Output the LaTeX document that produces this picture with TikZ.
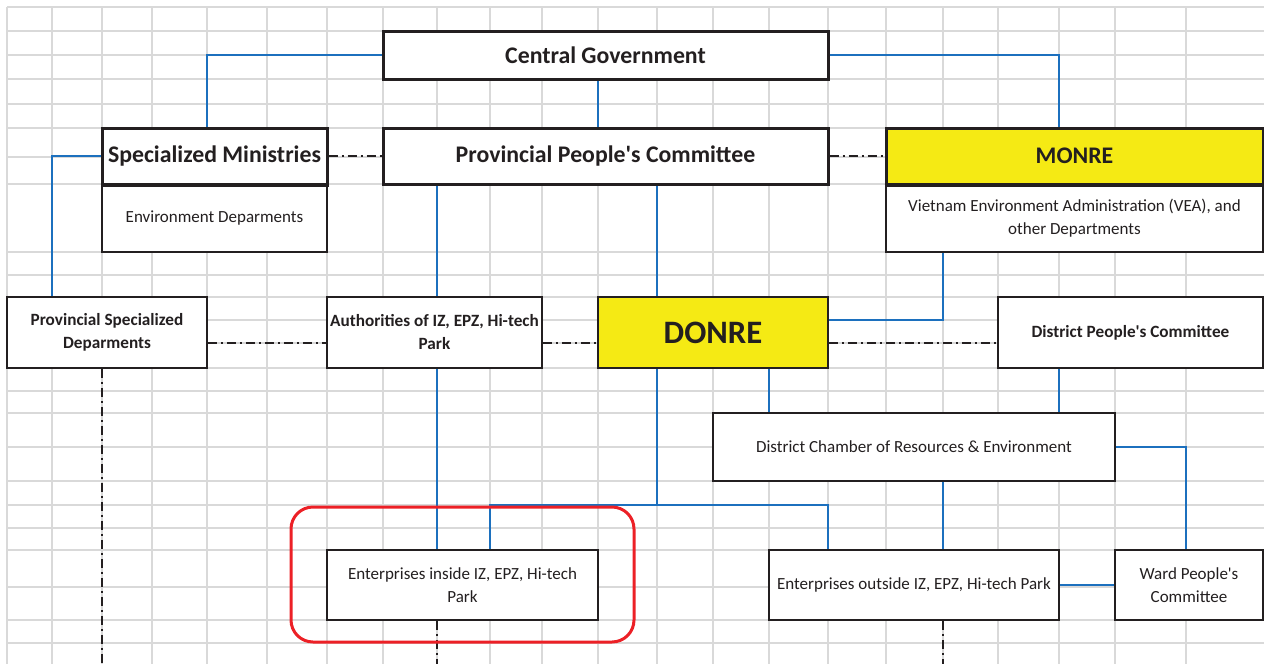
\documentclass[tikz,border=0pt]{standalone}
\usepackage{fontspec}
\setmainfont{Carlito}
\usepackage{xcolor}
\usepackage{tikz}
\usetikzlibrary{fit,calc}
\definecolor{gridgray}{RGB}{217,217,217}
\definecolor{linkblue}{RGB}{28,112,190}
\definecolor{deptyellow}{RGB}{245,234,20}
\definecolor{inkdark}{RGB}{35,31,32}
\definecolor{focusred}{RGB}{236,32,38}

\begin{document}
\begin{tikzpicture}[
  x=1pt, y=-1pt,
  gridline/.style={draw=gridgray, line width=1.6pt},
  headbox/.style={
    rectangle, draw=inkdark, fill=white, line width=3pt,
    align=center, inner sep=0pt, text=inkdark,
    font=\fontsize{23.8}{28}\selectfont\bfseries
  },
  subbox/.style={
    rectangle, draw=inkdark, fill=white, line width=1.8pt,
    align=center, inner sep=0pt, text=inkdark,
    font=\fontsize{17}{23}\selectfont
  },
  unitbox/.style={subbox, font=\fontsize{17.2}{23}\selectfont\bfseries},
  link/.style={draw=linkblue, line width=2.8pt},
  peer/.style={draw=inkdark, line width=1.6pt,
    dash pattern=on 9pt off 4pt on 2pt off 4pt},
  focus/.style={draw=focusred, line width=3pt, rounded corners=22pt,
    inner sep=0pt}
]

\useasboundingbox (0,0) rectangle (1264,664);

% spreadsheet grid
\foreach \gx in {7,52,102,152,207,267,327,383,437,490,542,598,657,713,769,828,886,943,998,1059,1115,1186}
  \draw[gridline] (\gx,7) -- (\gx,664);
\foreach \gy in {7,31,55,79,104,128,157,184,252,275,297,320,343,368,391,413,447,481,505,528,550,587,620,643}
  \draw[gridline] (7,\gy) -- (1264,\gy);

% top level
\node[headbox, minimum width=445pt, minimum height=48pt] (central) at (605.5,55) {Central Government};

\node[headbox, minimum width=225pt, minimum height=56pt] (specmin) at (214.5,156) {Specialized Ministries};
\node[subbox, minimum width=225pt, minimum height=68pt] (envdep) at (214.5,218) {Environment Deparments};
\node[headbox, minimum width=445pt, minimum height=56pt] (ppc) at (605.5,156) {Provincial People\textquotesingle s Committee};
\node[headbox, fill=deptyellow, minimum width=377pt, minimum height=56pt] (monre) at (1074.5,156) {MONRE};
\node[subbox, minimum width=377pt, minimum height=68pt] (vea) at (1074.5,218)
  {Vietnam Environment Administration (VEA), and\\other Departments};
\draw[draw=inkdark, line width=3pt] (specmin.south west) -- (specmin.south east);
\draw[draw=inkdark, line width=3pt] (monre.south west) -- (monre.south east);

% provincial level
\node[unitbox, minimum width=200pt, minimum height=71pt] (provspec) at (107,332.5) {Provincial Specialized\\Deparments};
\node[unitbox, minimum width=215pt, minimum height=71pt] (auth) at (434.5,332.5) {Authorities of IZ, EPZ, Hi-tech\\Park};
\node[subbox, fill=deptyellow, minimum width=230pt, minimum height=71pt,
  font=\fontsize{32.7}{36}\selectfont\bfseries] (donre) at (713,332.5) {DONRE};
\node[unitbox, minimum width=265pt, minimum height=71pt] (distpc) at (1130.5,332.5) {District People\textquotesingle s Committee};

% district level
\node[subbox, minimum width=402pt, minimum height=68pt] (chamber) at (914,447) {District Chamber of Resources \& Environment};

% enterprises
\node[subbox, minimum width=271pt, minimum height=70pt] (entin) at (462.5,585) {Enterprises inside IZ, EPZ, Hi-tech\\Park};
\node[subbox, minimum width=290pt, minimum height=70pt] (entout) at (914,585) {Enterprises outside IZ, EPZ, Hi-tech Park};
\node[subbox, minimum width=148pt, minimum height=70pt] (ward) at (1189,585) {Ward People\textquotesingle s\\Committee};

\coordinate (split) at (657,505);
\coordinate (bot) at (0,664);

% management links
\draw[link] (central.west) -| ([xshift=-7.5pt]specmin.north);
\draw[link] (central.east) -| ([xshift=-15.5pt]monre.north);
\draw[link] ([xshift=-7.5pt]central.south) -- ([xshift=-7.5pt]ppc.north);
\draw[link] (specmin.west) -| ([xshift=-55pt]provspec.north);
\draw[link] ([xshift=2.5pt]auth.north |- ppc.south) -- ([xshift=2.5pt]auth.north);
\draw[link] ([xshift=-56pt]donre.north |- ppc.south) -- ([xshift=-56pt]donre.north);
\draw[link] ([xshift=-131.5pt]vea.south) |- ([yshift=12.5pt]donre.east);
\draw[link] ([xshift=56pt]donre.south) -- ([xshift=-145pt]chamber.north);
\draw[link] ([xshift=-71.5pt]distpc.south) -- ([xshift=145pt]chamber.north);
\draw[link] ([xshift=2.5pt]auth.south) -- ([xshift=2.5pt]auth.south |- entin.north);
\draw[link] (donre.south -| split) -- (split);
\draw[link] ([xshift=27.5pt]entin.north) |- (split) -| ([xshift=-86pt]entout.north);
\draw[link] ([xshift=29pt]chamber.south) -- ([xshift=29pt]entout.north);
\draw[link] (chamber.east) -| ([xshift=-3pt]ward.north);
\draw[link] (entout.east) -- (ward.west);

% coordination links
\draw[peer] (specmin.east) -- (ppc.west);
\draw[peer] (ppc.east) -- (monre.west);
\draw[peer] ([yshift=-10.5pt]provspec.east) -- ([yshift=-10.5pt]auth.west);
\draw[peer] ([yshift=-10.5pt]auth.east) -- ([yshift=-10.5pt]donre.west);
\draw[peer] ([yshift=-10.5pt]donre.east) -- ([yshift=-10.5pt]distpc.west);
\draw[peer] ([xshift=-5pt]provspec.south) -- ([xshift=-5pt]provspec.south |- bot);
\draw[peer] ([xshift=-25.5pt]entin.south) -- ([xshift=-25.5pt]entin.south |- bot);
\draw[peer] ([xshift=29pt]entout.south) -- ([xshift=29pt]entout.south |- bot);

% highlighted group
\node[focus, fit={(291,507) (634,642)}] (focusbox) {};

\end{tikzpicture}
\end{document}
